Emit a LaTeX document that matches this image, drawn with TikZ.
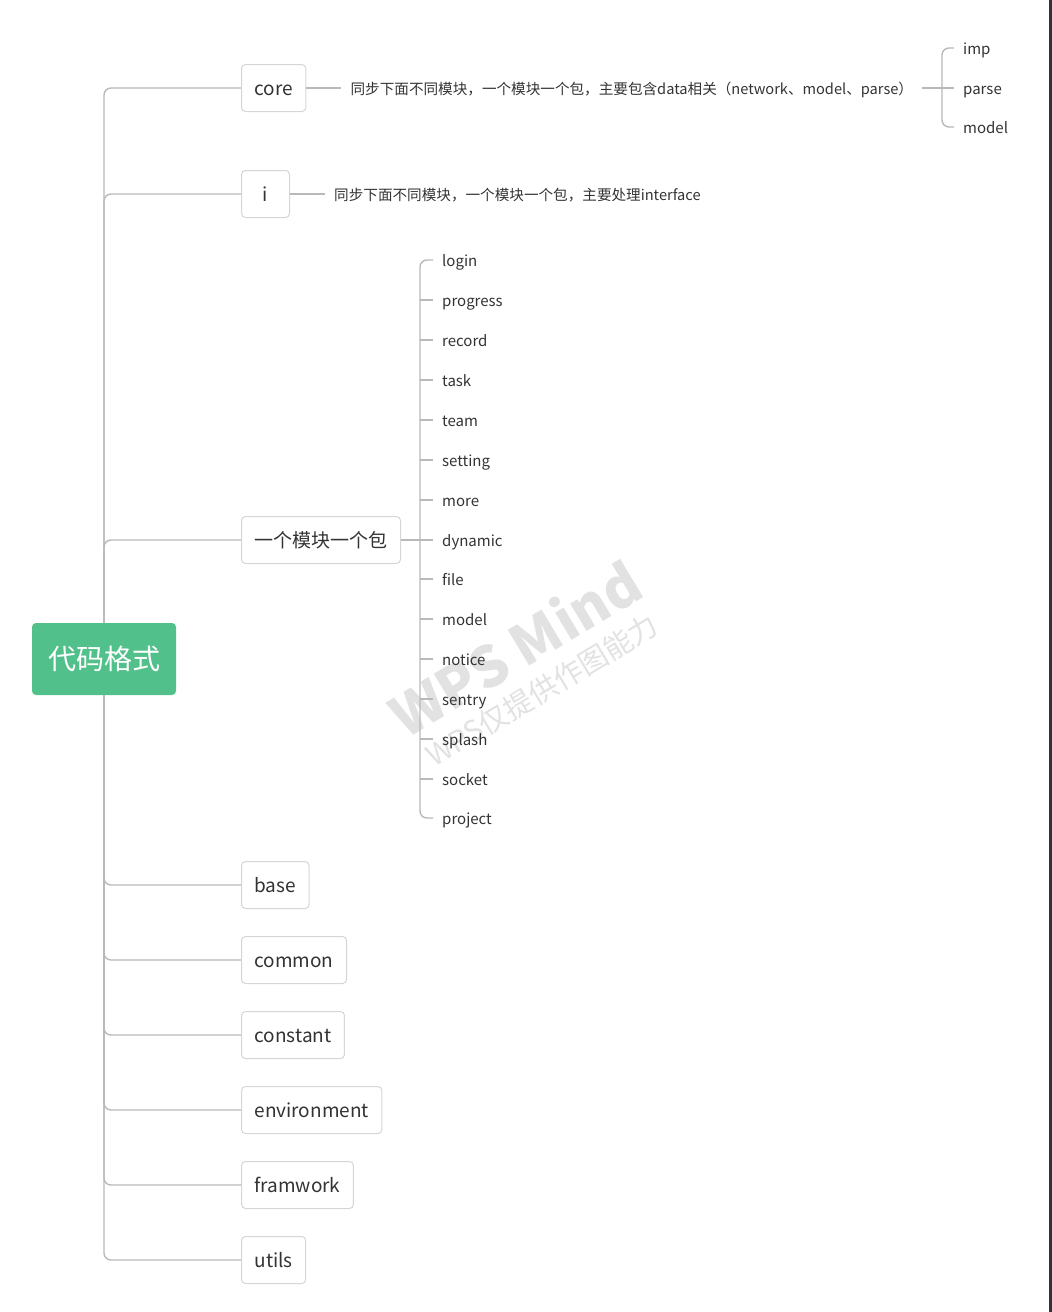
\documentclass[tikz,border=0pt]{standalone}
\usepackage{fontspec}
\setmainfont{Noto Sans CJK SC}
\usetikzlibrary{positioning}
\definecolor{mindgreen}{RGB}{82,192,138}
\definecolor{mindline}{RGB}{185,185,185}
\definecolor{mindborder}{RGB}{214,214,214}
\definecolor{mindtext}{RGB}{51,51,51}
\definecolor{mindmark}{RGB}{226,226,226}
\tikzstyle{rootbox} = [fill=mindgreen, rounded corners=4pt, text=white,
   font=\fontsize{28}{30}\selectfont, minimum width=144pt,
   minimum height=72pt, inner sep=0pt]
\tikzstyle{topicbox} = [draw=mindborder, line width=1pt, fill=white,
   rounded corners=4pt, text=mindtext, font=\fontsize{19}{21}\selectfont,
   minimum height=47pt, minimum width=48pt, inner xsep=13pt,
   text height=16pt, text depth=2pt, anchor=west]
\tikzstyle{note} = [text=mindtext, font=\fontsize{15}{17}\selectfont,
   inner xsep=9pt, inner ysep=0pt, text height=14pt, text depth=2pt,
   anchor=west]
\tikzstyle{descnote} = [note, font=\fontsize{14.6}{17}\selectfont]
\tikzstyle{branch} = [draw=mindline, line width=1.4pt, rounded corners=7pt]

\begin{document}
\begin{tikzpicture}[x=1pt, y=-1pt]
  \useasboundingbox (0,0) rectangle (1052,1312);
  % watermark behind the map
  \node[rotate=31, text=mindmark, font=\bfseries\fontsize{56}{60}\selectfont] (wpsmark) at (515,648) {WPS Mind};
  \node[rotate=31, text=mindmark, font=\fontsize{29}{31}\selectfont] (wpsnote) at (542,690) {WPS仅提供作图能力};
  \fill[black!80] (1049,0) rectangle (1052,1312);

  \node[rootbox] (root) at (104,659) {代码格式};
  \node[topicbox] (core) at (241,88) {core};
  \node[topicbox] (i) at (241,194) {i};
  \node[topicbox] (module) at (241,540) {一个模块一个包};
  \node[topicbox] (base) at (241,885) {base};
  \node[topicbox] (common) at (241,960) {common};
  \node[topicbox] (constant) at (241,1035) {constant};
  \node[topicbox] (environment) at (241,1110) {environment};
  \node[topicbox] (framwork) at (241,1185) {framwork};
  \node[topicbox] (utils) at (241,1260) {utils};

  \node[descnote, right = 35pt of core] (coredesc) {同步下面不同模块，一个模块一个包，主要包含data相关（network、model、parse）};
  \node[descnote, right = 35pt of i] (idesc) {同步下面不同模块，一个模块一个包，主要处理interface};

  \coordinate (corefork) at (942,88);
  \node[note] (imp) at (954,48) {imp};
  \node[note] (parse) at (954,88) {parse};
  \node[note] (coremodel) at (954,127) {model};

  \coordinate (modfork) at (420,540);
  \node[note] (login) at (433,260) {login};
  \node[note] (progress) at (433,300) {progress};
  \node[note] (record) at (433,340) {record};
  \node[note] (task) at (433,380) {task};
  \node[note] (team) at (433,420) {team};
  \node[note] (setting) at (433,460) {setting};
  \node[note] (more) at (433,500) {more};
  \node[note] (dynamic) at (433,540) {dynamic};
  \node[note] (file) at (433,579) {file};
  \node[note] (model) at (433,619) {model};
  \node[note] (notice) at (433,659) {notice};
  \node[note] (sentry) at (433,699) {sentry};
  \node[note] (splash) at (433,739) {splash};
  \node[note] (socket) at (433,779) {socket};
  \node[note] (project) at (433,818) {project};

  % trunk out of the root
  \foreach \n in {core,i,module}
    \draw[branch] (root.north) |- (\n.west);
  \foreach \n in {base,common,constant,environment,framwork,utils}
    \draw[branch] (root.south) |- (\n.west);

  \draw[branch] (core.east) -- (coredesc.west);
  \draw[branch] (i.east) -- (idesc.west);
  \draw[branch] (coredesc.east) -- (parse.west);
  \draw[branch] (imp.west) -| (corefork) |- (coremodel.west);

  \draw[branch] (module.east) -- (dynamic.west);
  \draw[branch] (login.west) -| (modfork) |- (project.west);
  \foreach \n in {progress,record,task,team,setting,more,file,model,notice,sentry,splash,socket}
    \draw[branch] (modfork |- \n.west) -- (\n.west);
\end{tikzpicture}
\end{document}
